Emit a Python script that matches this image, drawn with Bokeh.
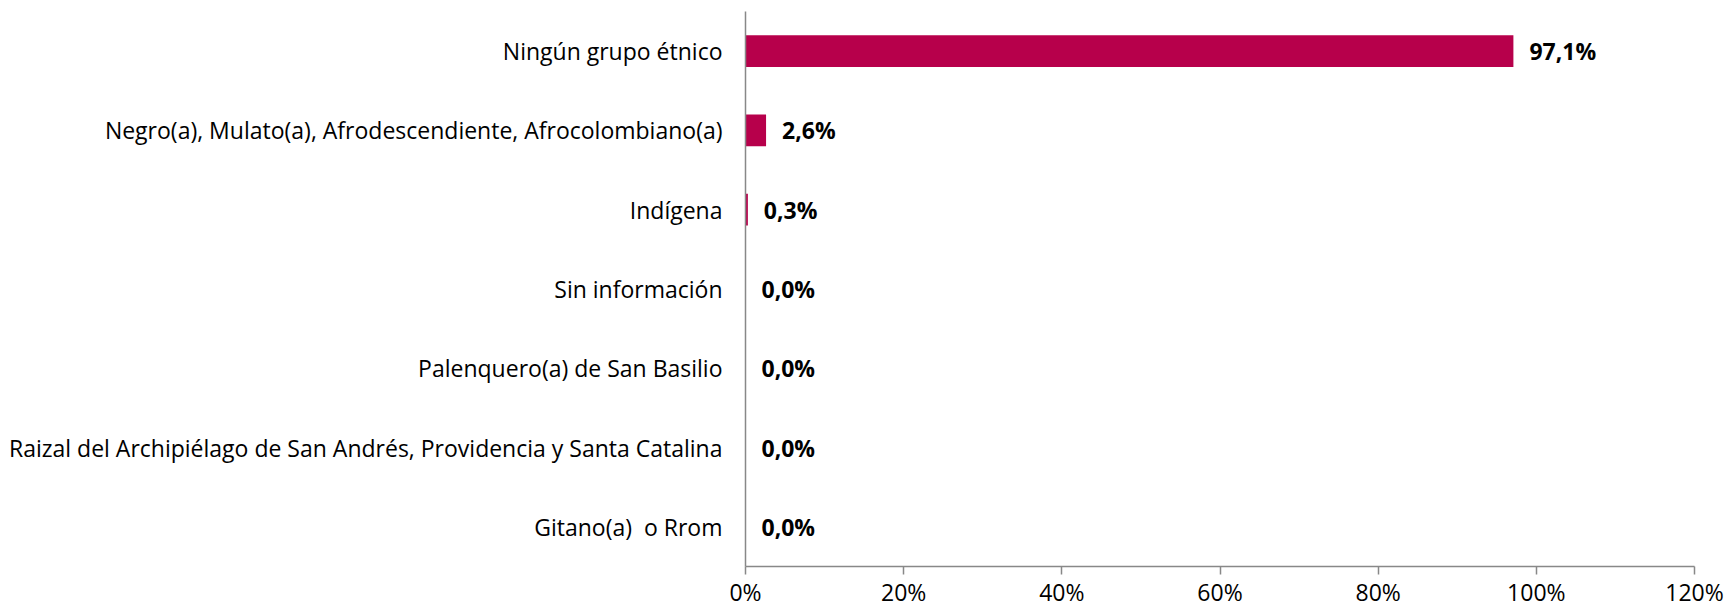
from bokeh.plotting import figure
from bokeh.models import ColumnDataSource, FixedTicker, Range1d, FactorRange
from bokeh.core.properties import value
from bokeh.embed import file_html
from bokeh.resources import INLINE

categories = [
    "Ningún grupo étnico",
    "Negro(a), Mulato(a), Afrodescendiente, Afrocolombiano(a)",
    "Indígena",
    "Sin información",
    "Palenquero(a) de San Basilio",
    "Raizal del Archipiélago de San Andrés, Providencia y Santa Catalina",
    "Gitano(a)\u00a0 o Rrom",
]
values = [97.1, 2.6, 0.3, 0.0, 0.0, 0.0, 0.0]
value_labels = ["97,1%", "2,6%", "0,3%", "0,0%", "0,0%", "0,0%", "0,0%"]
x_ticks = [0, 20, 40, 60, 80, 100, 120]
x_tick_labels = ["0%", "20%", "40%", "60%", "80%", "100%", "120%"]

FONT = "Open Sans"
BAR = "#B7004B"
AXIS = "#888888"

src = ColumnDataSource(dict(cat=categories, val=values, lab=value_labels))

p = figure(
    width=1727, height=610,
    y_range=FactorRange(factors=list(reversed(categories))),
    x_range=Range1d(0, 120),
    output_backend="svg", toolbar_location=None,
    min_border_left=745, min_border_right=33,
    min_border_top=11, min_border_bottom=38,
)
p.outline_line_color = None
p.xgrid.grid_line_color = None
p.ygrid.grid_line_color = None

p.hbar(y="cat", right="val", left=0, height=0.4, source=src,
       fill_color=BAR, line_color=None)

p.text(x="val", y="cat", text="lab", source=src, x_offset=16,
       text_font=value(FONT), text_font_style="bold", text_font_size="23px",
       text_baseline="middle", text_align="left", text_color="#000000")

xa = p.xaxis[0]
xa.ticker = FixedTicker(ticks=x_ticks)
xa.major_label_overrides = {t: l for t, l in zip(x_ticks, x_tick_labels)}
xa.axis_line_color = AXIS
xa.axis_line_width = 1.5
xa.major_tick_line_color = AXIS
xa.major_tick_line_width = 1.5
xa.major_tick_out = 8
xa.major_tick_in = 0
xa.minor_tick_line_color = None
xa.major_label_standoff = 1
xa.major_label_text_line_height = 0.9
xa.major_label_text_font = FONT
xa.major_label_text_font_size = "23px"
xa.major_label_text_color = "#000000"

ya = p.yaxis[0]
ya.axis_line_color = AXIS
ya.axis_line_width = 1.5
ya.major_tick_line_color = None
ya.major_tick_out = 0
ya.major_tick_in = 0
ya.minor_tick_line_color = None
ya.major_label_standoff = 23
ya.major_label_text_font = FONT
ya.major_label_text_font_size = "23px"
ya.major_label_text_color = "#000000"

open("out.html", "w").write(file_html(p, INLINE))
